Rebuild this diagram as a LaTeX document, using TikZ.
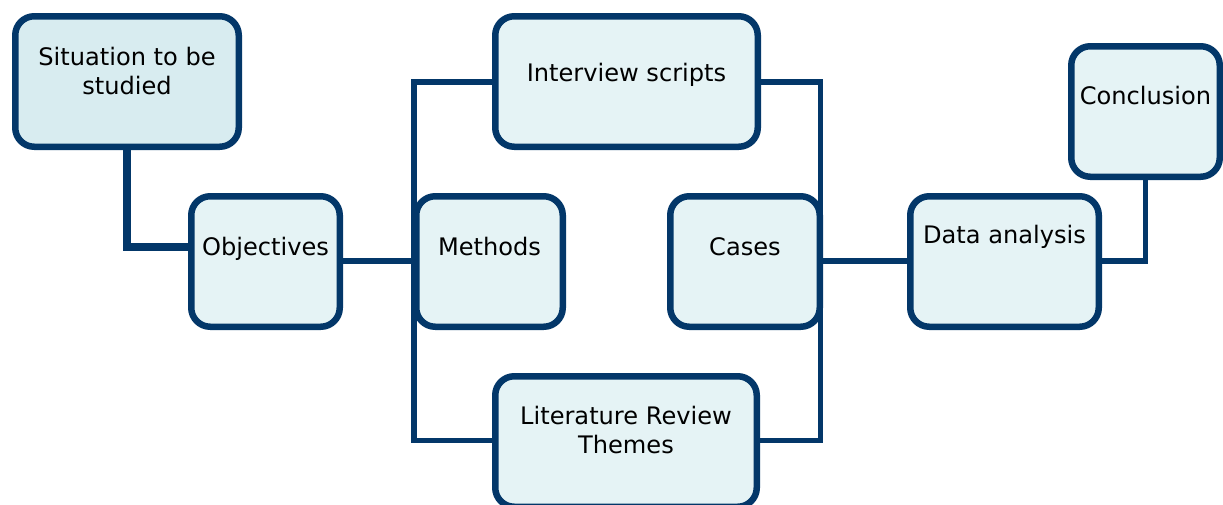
\documentclass[tikz,border=0pt]{standalone}
\usepackage{fontspec}
\setmainfont{DejaVu Sans}
\usetikzlibrary{backgrounds}
\definecolor{bordc}{RGB}{3,55,105}
\definecolor{boxfill}{RGB}{229,243,245}
\definecolor{sitfill}{RGB}{216,236,240}
\tikzset{
  box/.style={draw=bordc, line width=6.5pt, fill=boxfill, rounded corners=19pt, inner sep=0pt},
  lbl/.style={anchor=base, inner sep=0pt, font=\fontsize{24.1}{28.5}\selectfont, align=center},
  conn/.style={draw=bordc, line width=5.5pt},
}
\newcommand{\bx}[6]{% name, cx, cy, w, h, extra
  \node[box, minimum width=#4pt-6.5pt, minimum height=#5pt-6.5pt, #6] (#1) at (#2,#3) {};}
\begin{document}
\begin{tikzpicture}[x=1pt, y=-1pt]
\useasboundingbox (0,0) rectangle (1223,504);
\bx{sit}{127}{81.5}{230}{137}{fill=sitfill}
\bx{obj}{265.5}{261.5}{155}{137}{}
\bx{meth}{489.5}{261.5}{153}{137}{}
\bx{cases}{745}{261.5}{156}{137}{}
\bx{inter}{626.5}{81.5}{269}{137}{}
\bx{lit}{626}{441.5}{268}{137}{}
\bx{data}{1004.5}{261.5}{195}{137}{}
\bx{conc}{1145.5}{111.5}{155}{137}{}
\node[lbl] (tsit) at (127,94) {Situation to be\\studied};
\node[lbl] (tobj) at (265.5,255) {Objectives};
\node[lbl] (tmeth) at (489.5,255) {Methods};
\node[lbl] (tcases) at (745,255) {Cases};
\node[lbl] (tinter) at (626.5,81) {Interview scripts};
\node[lbl] (tlit) at (626,453) {Literature Review\\Themes};
\node[lbl] (tdata) at (1004.5,243) {Data analysis};
\node[lbl] (tconc) at (1145.5,104) {Conclusion};
\coordinate (ltop) at (414,82);
\coordinate (lbot) at (414,440.5);
\coordinate (rtop) at (820.5,82);
\coordinate (rbot) at (820.5,440.5);
\coordinate (ojoin) at (414,261);
\coordinate (cjoin) at (1145.5,261);
\begin{scope}[on background layer]
\draw[conn, line width=8pt] (sit.south) |- (obj.west |- 0,247);
\draw[conn] (obj.east |- ojoin) -- (ojoin);
\draw[conn, line cap=rect] (inter.west |- ltop) -- (ltop) -- (lbot) -- (lit.west |- lbot);
\draw[conn, line cap=rect] (inter.east |- rtop) -- (rtop) -- (rbot) -- (lit.east |- rbot);
\draw[conn] (cases.east |- 0,261) -- (data.west |- 0,261);
\draw[conn] (data.east |- cjoin) -- (cjoin) -- (conc.south);
\end{scope}
\end{tikzpicture}
\end{document}
